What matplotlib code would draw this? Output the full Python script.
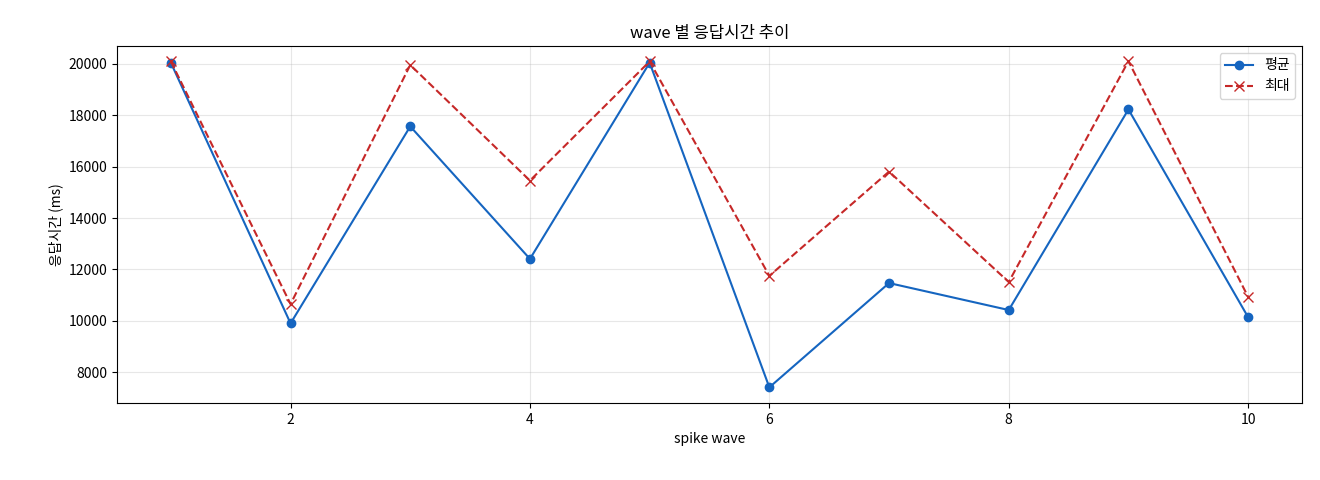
import matplotlib
matplotlib.use("Agg")
import matplotlib.pyplot as plt

plt.rcParams['font.family'] = ['Noto Sans CJK KR', 'DejaVu Sans']

waves = [1, 2, 3, 4, 5, 6, 7, 8, 9, 10]
avg_ms = [20050, 9900, 17570, 12410, 20050, 7410, 11470, 10420, 18230, 10140]
max_ms = [20100, 10650, 19960, 15460, 20100, 11750, 15810, 11510, 20110, 10930]

fig = plt.figure(figsize=(13.2, 4.8), dpi=100)
ax = fig.add_axes([117/1320, 1-403/480, (1302-117)/1320, (403-46)/480])
ax.plot(waves, avg_ms, marker='o', color='#1565c0', label='평균', markersize=6)
ax.plot(waves, max_ms, marker='x', linestyle='--', color='#c62828', label='최대', markersize=7)
ax.set_title('wave 별 응답시간 추이', fontsize=12)
ax.set_xlabel('spike wave', fontsize=10)
ax.set_ylabel('응답시간 (ms)', fontsize=10)
ax.set_ylim(6800, 20700)
ax.grid(True, alpha=0.3)
ax.legend(loc='upper right')
fig.savefig('out.png', dpi=100)
